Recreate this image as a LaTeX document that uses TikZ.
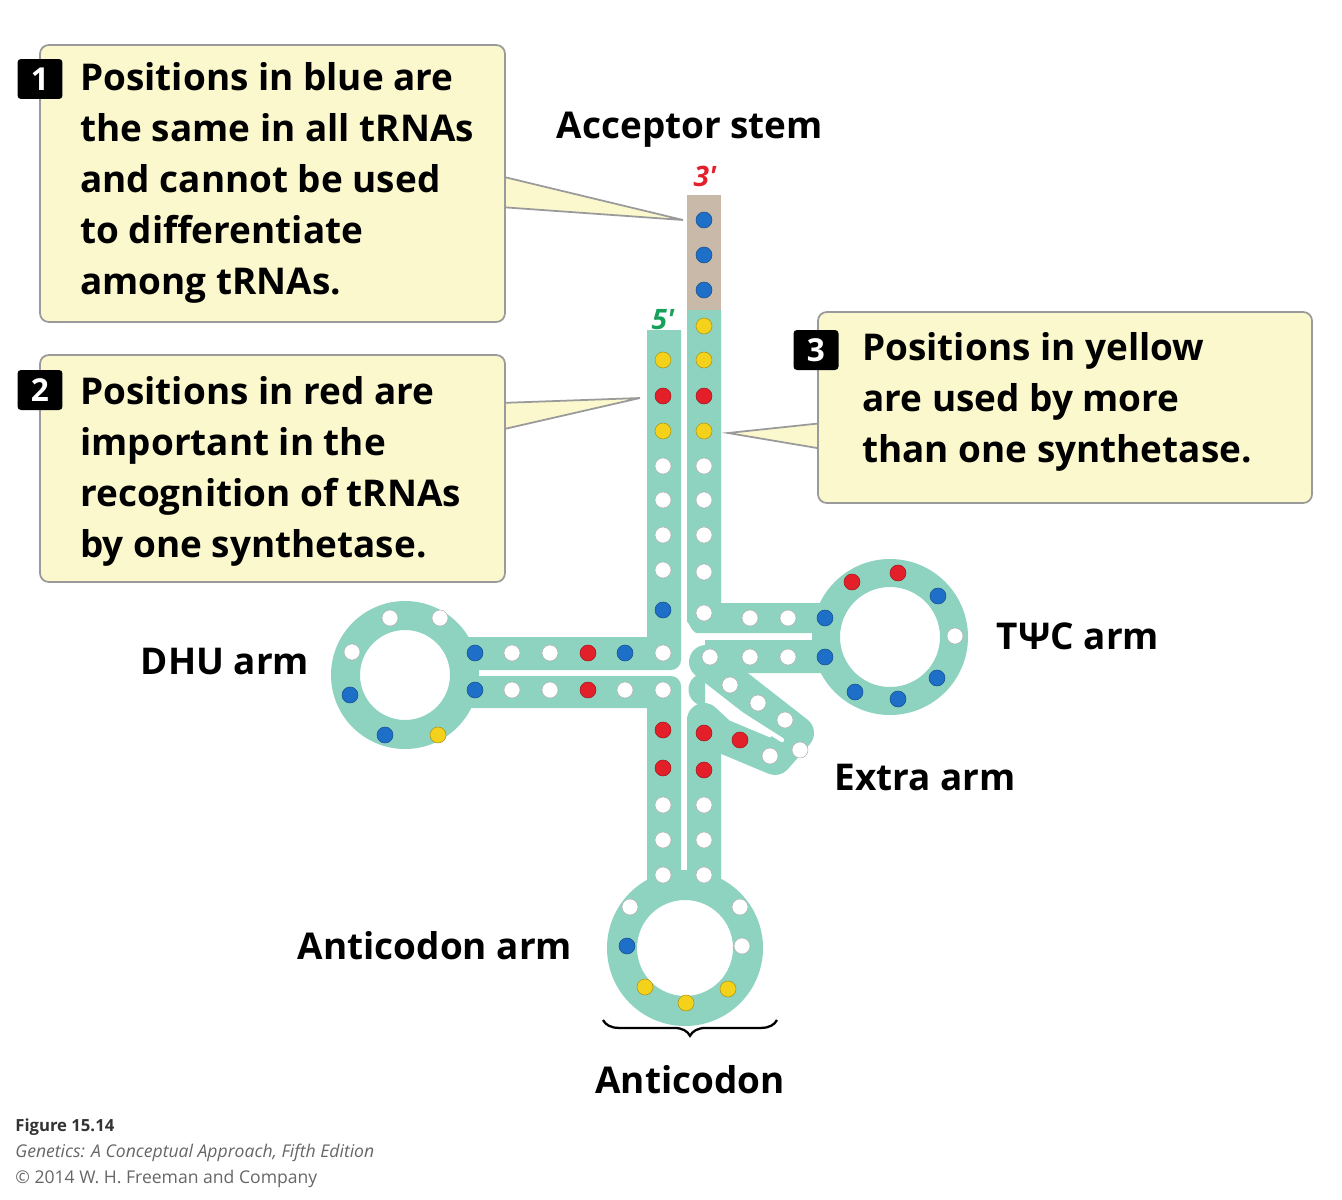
\documentclass[tikz,border=0pt]{standalone}
\usepackage{fontspec}
\setmainfont{Open Sans}
\usetikzlibrary{decorations.pathreplacing}
\definecolor{band}{HTML}{8ED3C0}
\definecolor{tan}{HTML}{C9B9A9}
\definecolor{boxf}{HTML}{FBF8CE}
\definecolor{boxd}{HTML}{9A9A9A}
\definecolor{db}{HTML}{1E6FC8}
\definecolor{dr}{HTML}{E3202A}
\definecolor{dy}{HTML}{F4D21C}
\definecolor{gr5}{HTML}{17A05A}
\tikzset{
 callout/.style={fill=boxf,draw=boxd,line width=1pt,rounded corners=5pt},
 boxtext/.style={anchor=north west,inner sep=0,align=left,font=\fontsize{21}{29}\selectfont\bfseries},
 lbl/.style={inner sep=0,font=\fontsize{21}{24}\selectfont\bfseries},
 badge/.style={fill=black,text=white,rounded corners=2pt,minimum width=0.9cm,minimum height=0.8cm,inner sep=0,font=\fontsize{18}{20}\selectfont\bfseries},
 bandline/.style={draw=band,line width=0.68cm},
}
\newcommand{\dts}[2]{\foreach \p in {#2}{\fill[#1,draw=#1!70!black,line width=0.3pt] \p circle (0.16cm);}}
\begin{document}
\begin{tikzpicture}[x=0.02cm,y=-0.02cm]
\useasboundingbox (0,0) rectangle (1342,1200);
% callouts
\draw[callout,rounded corners=0] (500,176)--(683,220)--(500,207);
\draw[callout,rounded corners=0] (500,403)--(640,398)--(500,430);
\draw[callout,rounded corners=0] (823,423)--(728,433)--(823,449);
\draw[callout] (40,45) rectangle (505,322);
\draw[callout] (40,355) rectangle (505,582);
\draw[callout] (818,312) rectangle (1312,503);
\node[boxtext] (t1) at (80,62) {Positions in blue are\\the same in all tRNAs\\and cannot be used\\to differentiate\\among tRNAs.};
\node[boxtext] (t2) at (80,376) {Positions in red are\\important in the\\recognition of tRNAs\\by one synthetase.};
\node[boxtext] (t3) at (862,332) {Positions in yellow\\are used by more\\than one synthetase.};
\node[badge] (b1) at (40,79) {1};
\node[badge] (b2) at (40,390) {2};
\node[badge] (b3) at (816,350) {3};
% tRNA bands
\fill[tan] (687,195) rectangle (721,312);
\fill[band] (687,310)--(721,310)--(721,603)--(830,603)--(830,633)--(697,633) to[out=180,in=90] (687,623)--cycle;
\fill[band] (647,330)--(681,330)--(681,660) to[out=-90,in=0] (671,670)--(465,670)--(465,637)--(647,637)--cycle;
\fill[band] (465,676)--(671,676) to[out=0,in=90] (681,686)--(681,880)--(647,880)--(647,708)--(465,708)--cycle;
\fill[band] (705,640)--(830,640)--(830,673)--(705,673) arc (270:90:16.5);
\fill[band] (687,715) arc (180:0:17)--(721,880)--(687,880)--cycle;
\draw[bandline,line cap=round,line join=round] (706,662)--(797,733)--(775,758)--(720,735)--(704,720);
\draw[white,line width=2.5pt,line cap=round] (716,698)--(782,740);
\fill[band,even odd rule] (405,675) circle (74) (405,675) circle (45);
\fill[band,even odd rule] (890,637) circle (78) (890,637) circle (50);
\fill[band,even odd rule] (685,948) circle (78) (685,948) circle (48);
% dots
\dts{white}{(704,466),(704,500),(704,535),(704,572),(704,613),(663,466),(663,500),(663,535),(663,570),
 (512,653),(550,653),(663,653),(512,690),(550,690),(625,690),(663,690),(390,618),(440,618),(352,652),
 (750,618),(788,618),(710,657),(750,657),(788,657),(955,636),(730,685),(758,703),(785,720),(800,750),(770,756),
 (663,805),(663,840),(663,875),(704,805),(704,840),(704,875),(630,907),(742,946),(740,907)}
\dts{db}{(704,220),(704,255),(704,290),(663,610),(475,653),(625,653),(475,690),(350,695),(385,735),
 (825,618),(825,657),(938,596),(937,678),(898,699),(855,692),(627,946)}
\dts{dr}{(704,396),(663,396),(588,653),(588,690),(852,582),(898,573),(740,740),(663,730),(663,768),(704,733),(704,770)}
\dts{dy}{(704,326),(704,360),(704,431),(663,360),(663,431),(438,735),(645,987),(686,1003),(728,989)}
% labels
\node[lbl] (acc) at (690,130) {Acceptor stem};
\node[lbl,text=dr,font=\fontsize{16}{18}\selectfont\bfseries\itshape] (p3) at (705,176) {3′};
\node[lbl,text=gr5,font=\fontsize{16}{18}\selectfont\bfseries\itshape] (p5) at (663,320) {5′};
\node[lbl] (dhu) at (225,662) {DHU arm};
\node[lbl] (tpc) at (1078,636) {TΨC arm};
\node[lbl] (ext) at (925,777) {Extra arm};
\node[lbl] (aca) at (435,946) {Anticodon arm};
\node[lbl] (ac) at (690,1080) {Anticodon};
\draw[line width=1.3pt,decorate,decoration={brace,amplitude=9pt}] (777,1020)--(603,1020);
% caption
\node[anchor=base west,inner sep=0,font=\fontsize{9.5}{11}\selectfont\bfseries,text=black!80] (f1) at (15,1131) {Figure 15.14};
\node[anchor=base west,inner sep=0,font=\fontsize{10}{11}\selectfont\itshape,text=black!60] (f2) at (15,1157) {Genetics: A Conceptual Approach, Fifth Edition};
\node[anchor=base west,inner sep=0,font=\fontsize{10}{11}\selectfont,text=black!60] (f3) at (15,1183) {© 2014 W. H. Freeman and Company};
\end{tikzpicture}
\end{document}
